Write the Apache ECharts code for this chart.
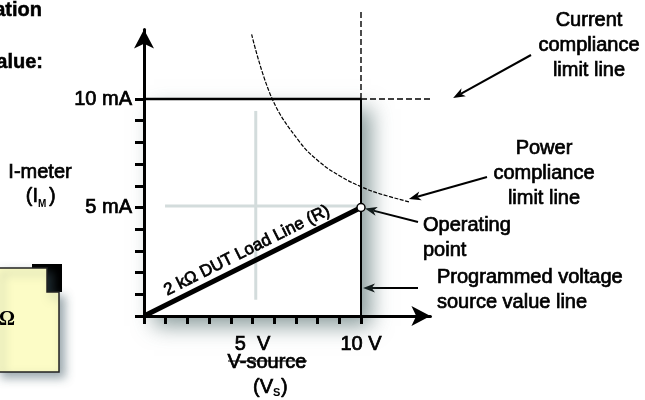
<!DOCTYPE html>
<html><head><meta charset="utf-8">
<script src="https://cdn.jsdelivr.net/npm/echarts@6/dist/echarts.min.js"></script>
<style>html,body{margin:0;padding:0;background:#fff}#c{width:645px;height:400px}</style>
</head><body><div id="c"></div>
<script>
// ---- data ----
const xTickValues = [0,1,2,3,4,5,6,7,8,9,10];
const yTickValues = [0,1,2,3,4,5,6,7,8,9,10];
const xLabelValues = [5,10];
const xLabelTexts = {5:'5  V', 10:'10 V'};
const yLabelValues = [5,10];
const yLabelTexts = {5:'5 mA', 10:'10 mA'};
const loadLine = [[0,0],[10,5]];
const currentLimitSolid = [[0,10],[10,10]];
const currentLimitDashed = [[10,10],[14.2,10]];
const voltageLineSolid = [[10,0],[10,10]];
const voltageLineDashed = [[10,10],[10,14.1]];
const powerCurve = [[4.96,12.98],[5.91,10.0],[7.19,8.0],[8.11,7.08],[9.03,6.45],[10.0,5.96],[10.88,5.63],[12.26,5.25]];
const crossV = [[5.15,0.75],[5.15,9.45]];
const crossH = [[0.97,5.07],[10,5.07]];
const operatingPoint = [[10,5]];
const complianceBox = [[0,0,10,10]];
const axisMax = 13.2;

const FONT = '"Liberation Sans", Arial, Helvetica, sans-serif';
const TB = 0.7; // text thickening
const chart = echarts.init(document.getElementById('c'), null, {renderer:'canvas'});

function lineSeries(data, width, type, z, color){
  return {type:'line', data, symbol:'none', showSymbol:false, clip:false, silent:true, z:z||3,
    lineStyle:{color:color||'#000', width, type:type||'solid', cap:'butt'}, animation:false};
}

const option = {
  animation:false,
  backgroundColor:'#fff',
  grid:{left:144, top:29.56, width:286.44, height:286.44, containLabel:false},
  xAxis:{type:'value', min:0, max:axisMax, z:6,
    axisLine:{show:true, onZero:false, lineStyle:{color:'#000', width:3}, symbol:['none','arrow'], symbolSize:[15,19]},
    axisTick:{show:true, customValues:xTickValues, length:8, inside:false, lineStyle:{color:'#000', width:3}},
    axisLabel:{show:true, customValues:xLabelValues, formatter:v=>xLabelTexts[v]||'', margin:18, fontSize:20, color:'#000', fontFamily:FONT, textBorderColor:'#000', textBorderWidth:TB},
    splitLine:{show:false}},
  yAxis:{type:'value', min:0, max:axisMax, z:6,
    axisLine:{show:true, onZero:false, lineStyle:{color:'#000', width:3}, symbol:['none','arrow'], symbolSize:[15,19]},
    axisTick:{show:true, customValues:yTickValues, length:9, inside:false, lineStyle:{color:'#000', width:3}},
    axisLabel:{show:true, customValues:yLabelValues, formatter:v=>yLabelTexts[v]||'', margin:12, fontSize:20, color:'#000', fontFamily:FONT, textBorderColor:'#000', textBorderWidth:TB},
    splitLine:{show:false}},
  series:[
    {type:'custom', z:1, silent:true, clip:false, data:complianceBox, encode:{x:[0,2], y:[1,3]},
      renderItem:(params, api)=>{
        const p0 = api.coord([api.value(0), api.value(1)]);
        const p1 = api.coord([api.value(2), api.value(3)]);
        return {type:'rect', shape:{x:p0[0], y:p1[1], width:p1[0]-p0[0], height:p0[1]-p1[1]},
          style:{fill:'#fff', shadowBlur:20, shadowOffsetX:10, shadowOffsetY:10, shadowColor:'rgba(60,90,90,0.6)'}};
      }},
    lineSeries(crossV, 3, 'solid', 2, '#d3dcdc'),
    lineSeries(crossH, 3, 'solid', 2, '#d3dcdc'),
    lineSeries(currentLimitSolid, 2.5),
    lineSeries(currentLimitDashed, 1.4, [6,3]),
    lineSeries(voltageLineSolid, 2),
    lineSeries(voltageLineDashed, 1.4, [6,3]),
    Object.assign(lineSeries(powerCurve, 1.2, [4,1.5]), {smooth:0.4}),
    Object.assign(lineSeries(loadLine, 5, 'solid', 4), {
      markLine:{silent:true, symbol:['none','none'], animation:false,
        lineStyle:{width:0.01, color:'rgba(0,0,0,0)'},
        label:{show:true, position:'insideMiddleTop', distance:4, formatter:'2 kΩ DUT Load Line (R)', color:'#000', fontSize:17, fontFamily:FONT, textBorderColor:'#000', textBorderWidth:TB},
        data:[[{coord:loadLine[0]},{coord:loadLine[1]}]]}}),
    {type:'scatter', data:operatingPoint, symbol:'circle', symbolSize:8, z:10, silent:true,
      itemStyle:{color:'#fff', borderColor:'#000', borderWidth:1.5, opacity:1}}
  ]
};
chart.setOption(option);

// ---- annotations ----
const px = v => chart.convertToPixel({gridIndex:0}, v);
function arrow(x1,y1,x2,y2){
  const a = Math.atan2(y2-y1, x2-x1), L=12, W=4.5;
  const c = Math.cos(a), s = Math.sin(a);
  const bx = x2-L*c, by = y2-L*s, nx=-s, ny=c;
  const nxp = x2-0.72*L*c, nyp = y2-0.72*L*s;
  return [
    {type:'line', silent:true, shape:{x1, y1, x2:nxp, y2:nyp}, style:{stroke:'#000', lineWidth:2}},
    {type:'polygon', silent:true, shape:{points:[[x2,y2],[bx+nx*W,by+ny*W],[nxp,nyp],[bx-nx*W,by-ny*W]]}, style:{fill:'#000'}}
  ];
}
function txt(x, y, text, align, font, va, tb){
  return {type:'text', x, y, silent:true, style:{text, fill:'#000', font:font||('20px '+FONT), align:align||'left', verticalAlign:va||'top', lineHeight:25, stroke:'#000', lineWidth:(tb==null?TB:tb)}};
}
const op = px(operatingPoint[0]);
const vl = px([10, 3.3]);
const cl = px([14.2, 10]);
const pw = px([12.3, 5.25]);
const g = [];
// yellow box (left, partially visible)
g.push({type:'rect', silent:true, shape:{x:32, y:264, width:30, height:28}, style:{fill:'#000'}});
g.push({type:'polygon', silent:true, shape:{points:[[-3,268],[47,268],[47,292],[59,292],[59,372],[-3,372]]},
  style:{fill:'#fcfcc6', stroke:'#222', lineWidth:1.5, shadowBlur:10, shadowOffsetX:5, shadowOffsetY:5, shadowColor:'rgba(60,85,95,0.5)'}});
g.push(txt(15, 320, 'Ω', 'right', 'bold 20px "Liberation Serif", serif', 'middle', 0));
// left texts
g.push(txt(42, 10, 'ation', 'right', 'bold 20px '+FONT, 'middle', 0.5));
g.push(txt(43, 62, 'alue:', 'right', 'bold 20px '+FONT, 'middle', 0.5));
g.push(txt(40, 172, 'I-meter', 'center', '20px '+FONT, 'middle'));
g.push(txt(38, 196, '(I', 'right', '20px '+FONT, 'middle'));
g.push(txt(38, 204, 'M', 'left', 'bold 10px '+FONT, 'middle', 0));
g.push(txt(49, 196, ')', 'left', '20px '+FONT, 'middle'));
// bottom axis title
g.push(txt(267, 362, 'V-source', 'center', '20px '+FONT, 'middle'));
g.push({type:'line', silent:true, shape:{x1:228, y1:361, x2:307, y2:361}, style:{stroke:'#000', lineWidth:1}});
g.push(txt(273, 387, '(V', 'right', '20px '+FONT, 'middle'));
g.push(txt(273, 393, 'S', 'left', 'bold 11px '+FONT, 'middle', 0));
g.push(txt(281, 387, ')', 'left', '20px '+FONT, 'middle'));
// right annotations
g.push(txt(589, 7.5, 'Current\ncompliance\nlimit line', 'center'));
g.push(txt(544, 135.5, 'Power\ncompliance\nlimit line', 'center'));
g.push(txt(423, 212.5, 'Operating\npoint', 'left'));
g.push(txt(437, 264.5, 'Programmed voltage\nsource value line', 'left'));
g.push(...arrow(531, 55, cl[0]+1, cl[1]-1));
g.push(...arrow(487, 177, pw[0]-2, pw[1]-3));
g.push(...arrow(418, 222, op[0]+4, op[1]+1));
g.push(...arrow(418, 288, vl[0]+2, 288));
chart.setOption({graphic:{elements:g}});
</script>
</body></html>
